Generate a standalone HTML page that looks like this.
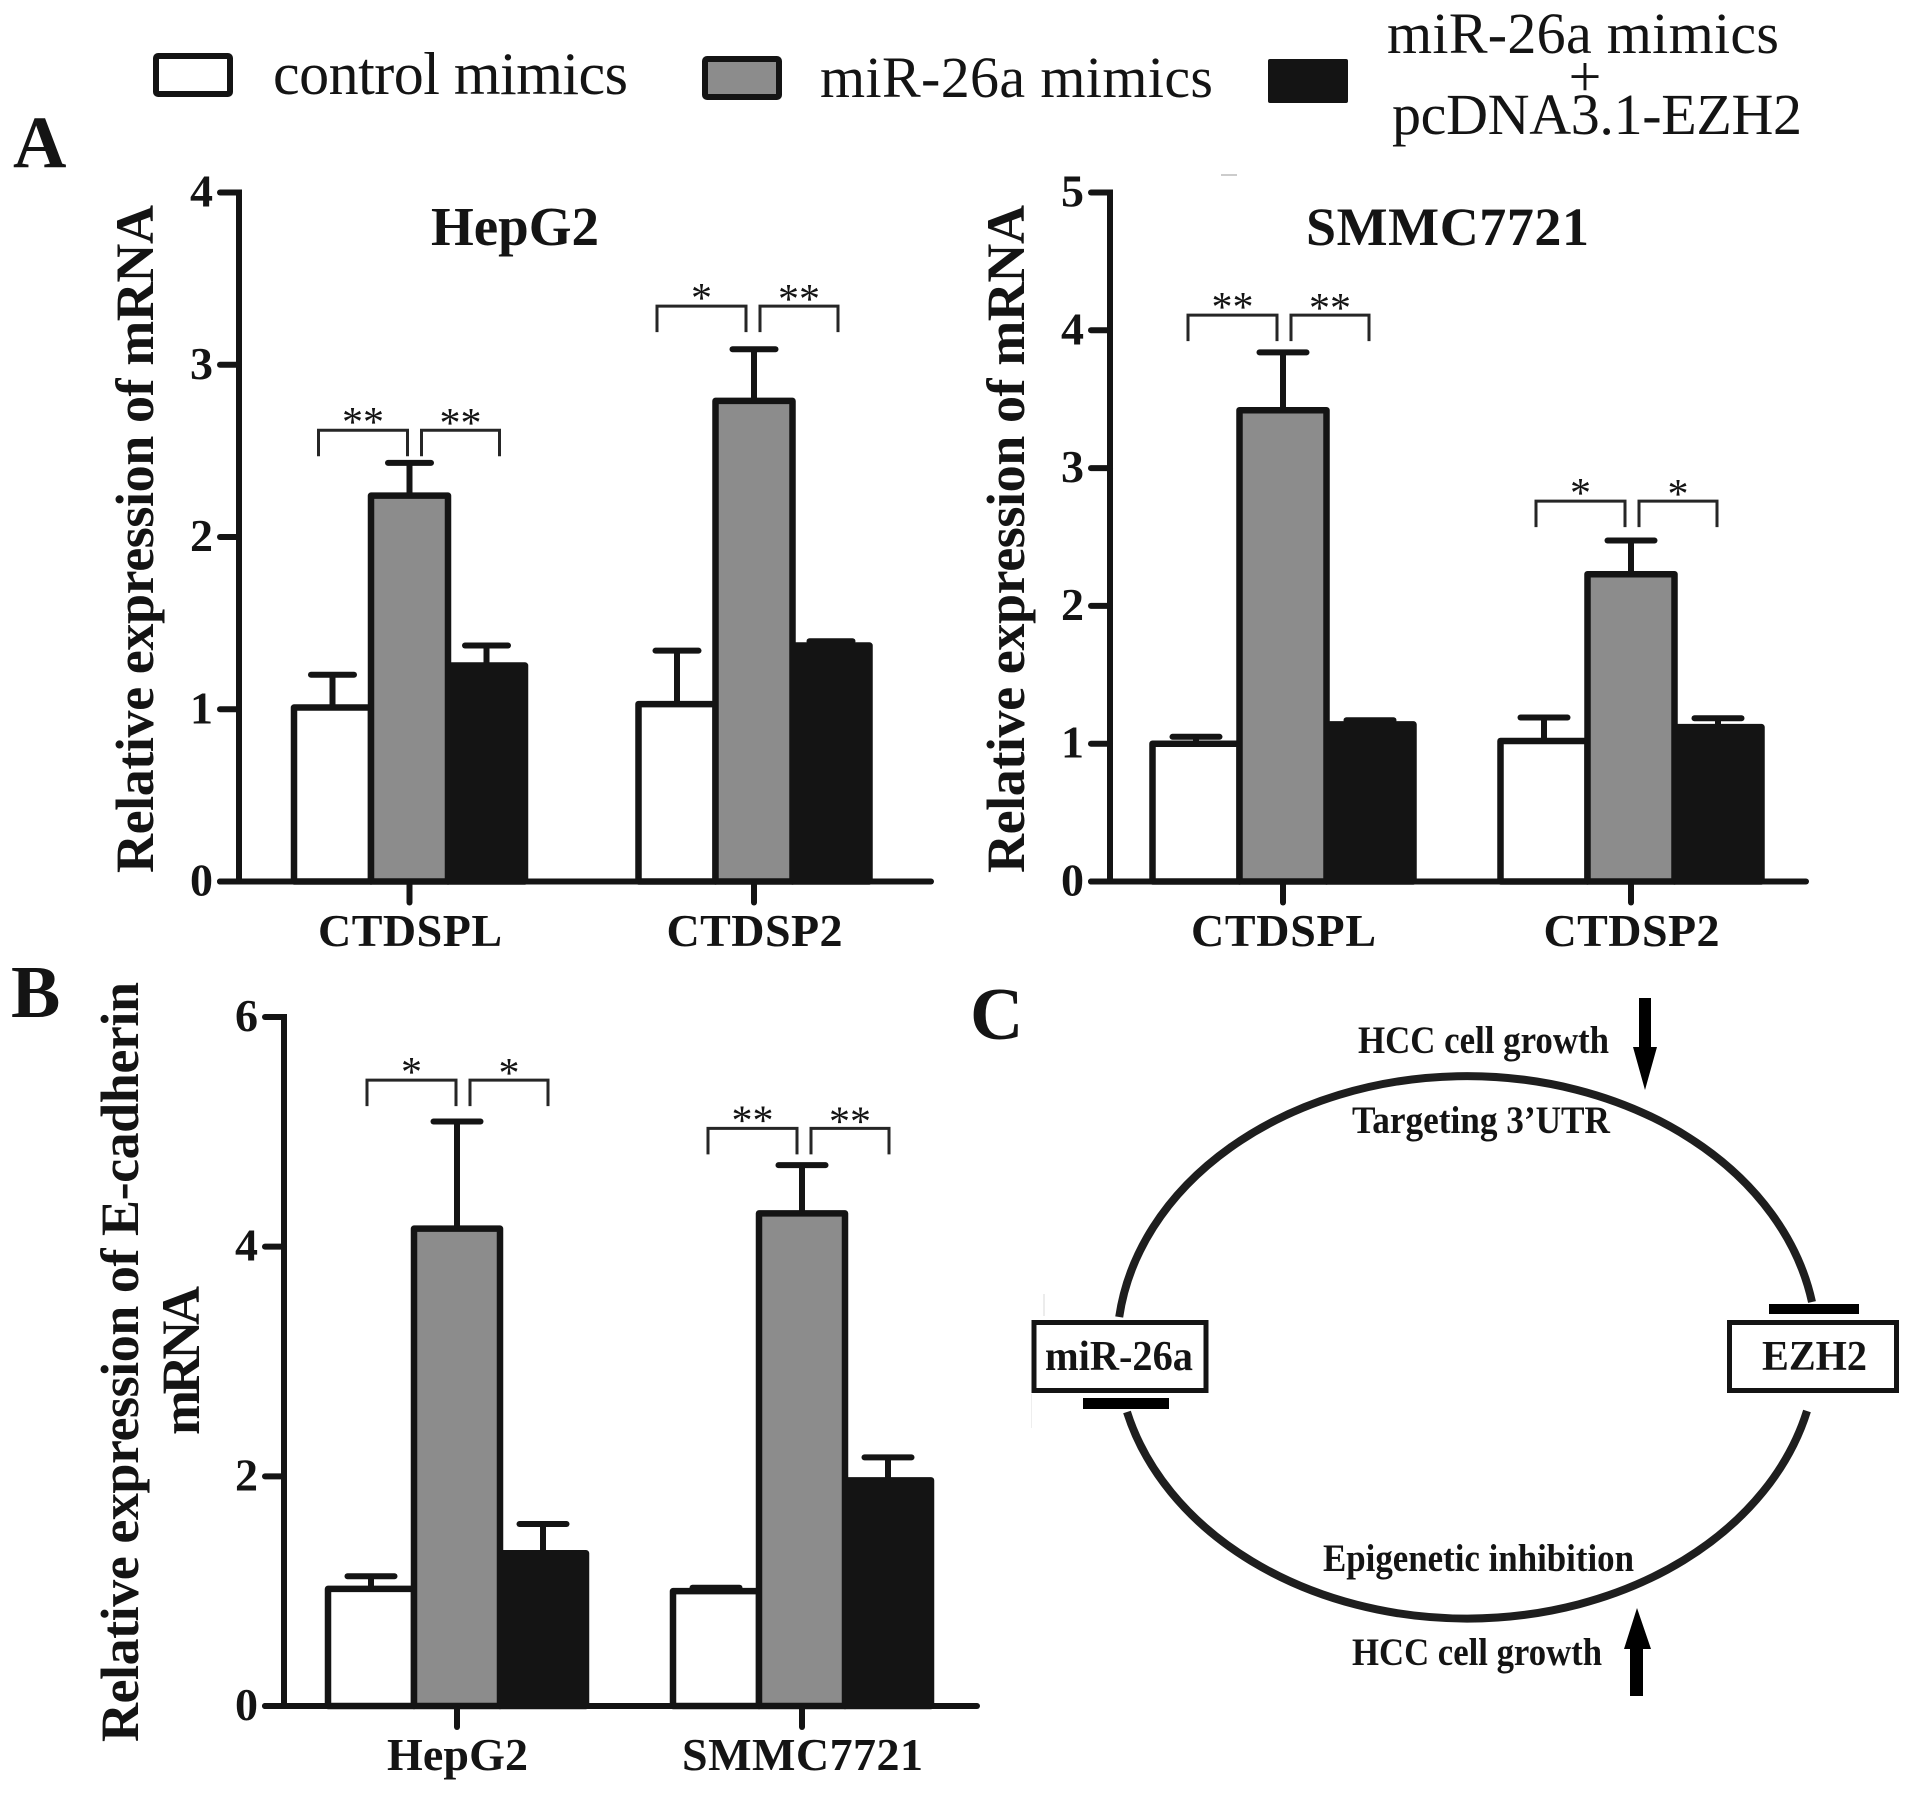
<!DOCTYPE html>
<html lang="en">
<head>
<meta charset="utf-8">
<title>miR-26a bar charts and regulatory diagram</title>
<style>
html,body{margin:0;padding:0;background:#fff}
svg{display:block}
text{font-family:"Liberation Serif",serif;fill:#141414}
.b{font-weight:bold}
</style>
</head>
<body>
<svg id="fig" xmlns="http://www.w3.org/2000/svg" width="1913" height="1793" viewBox="0 0 1913 1793">
<rect x="0" y="0" width="1913" height="1793" fill="#fff"/>

<g>
<rect x="156" y="56" width="74" height="38" rx="2" fill="#fff" stroke="#141414" stroke-width="6"/>
<text x="273" y="94" font-size="60" textLength="355" lengthAdjust="spacing">control mimics</text>
<rect x="705" y="59" width="74" height="38" rx="2" fill="#8c8c8c" stroke="#141414" stroke-width="6"/>
<text x="820" y="97" font-size="58" textLength="393" lengthAdjust="spacing">miR-26a mimics</text>
<rect x="1268" y="59" width="80" height="44" rx="2" fill="#141414"/>
<text x="1387" y="53" font-size="58" textLength="392" lengthAdjust="spacing">miR-26a mimics</text>
<text x="1585" y="96" font-size="58" text-anchor="middle">+</text>
<text x="1392" y="134" font-size="58" textLength="410" lengthAdjust="spacing">pcDNA3.1-EZH2</text>
</g>

<text class="b" x="13" y="167" font-size="74">A</text>
<text class="b" x="11" y="1017" font-size="74">B</text>
<text class="b" x="970" y="1039" font-size="74">C</text>

<text class="b" x="431" y="245" font-size="55" textLength="168" lengthAdjust="spacing">HepG2</text>
<text class="b" x="1306" y="245" font-size="54" textLength="283" lengthAdjust="spacing">SMMC7721</text>

<text class="b" font-size="54" transform="translate(153 873) rotate(-90)" textLength="668" lengthAdjust="spacing">Relative expression of mRNA</text>
<text class="b" font-size="54" transform="translate(1024 873) rotate(-90)" textLength="668" lengthAdjust="spacing">Relative expression of mRNA</text>
<text class="b" font-size="54" transform="translate(138 1742) rotate(-90)" textLength="760" lengthAdjust="spacing">Relative expression of E-cadherin</text>
<text class="b" font-size="54" transform="translate(199 1435) rotate(-90)" textLength="149" lengthAdjust="spacing">mRNA</text>

<g id="charts"></g>

<g>
<path d="M1119.2 1317 A350 271.5 0 0 1 1812 1302" fill="none" stroke="#1e1e1e" stroke-width="8"/>
<path d="M1127 1412 A350 271.5 0 0 0 1807 1411" fill="none" stroke="#1e1e1e" stroke-width="8"/>
<rect x="1034" y="1322.5" width="172" height="68" fill="#fff" stroke="#141414" stroke-width="5"/>
<text class="b" x="1045" y="1370" font-size="42" textLength="148" lengthAdjust="spacingAndGlyphs">miR-26a</text>
<rect x="1729.5" y="1322.5" width="167" height="68" fill="#fff" stroke="#141414" stroke-width="5"/>
<text class="b" x="1762" y="1370" font-size="42" textLength="105" lengthAdjust="spacingAndGlyphs">EZH2</text>
<rect x="1769" y="1304" width="90" height="10" fill="#000"/>
<rect x="1083" y="1398" width="86" height="11" fill="#000"/>
<text class="b" x="1358" y="1053" font-size="39" textLength="251" lengthAdjust="spacingAndGlyphs">HCC cell growth</text>
<text class="b" x="1352" y="1133" font-size="39" textLength="258" lengthAdjust="spacingAndGlyphs">Targeting 3’UTR</text>
<text class="b" x="1323" y="1571" font-size="39" textLength="311" lengthAdjust="spacingAndGlyphs">Epigenetic inhibition</text>
<text class="b" x="1352" y="1665" font-size="39" textLength="250" lengthAdjust="spacingAndGlyphs">HCC cell growth</text>
<polygon points="1639,998 1651,998 1651,1047 1657,1047 1645,1090 1633,1047 1639,1047" fill="#000"/>
<polygon points="1637,1608 1651,1649 1643,1649 1643,1696 1630,1696 1630,1649 1624,1649" fill="#000"/>
<rect x="1043" y="1294" width="2" height="22" fill="#ececec"/>
<rect x="1031" y="1394" width="1" height="34" fill="#eeeeee"/>
</g>
<rect x="1221" y="174" width="16" height="2" fill="#ccc"/>
</svg>

<script>
// Panel A, HepG2
const hepCategories = ['CTDSPL', 'CTDSP2'];
const hepTicks = ['0', '1', '2', '3', '4'];
const hepControl = [1.01, 1.03];
const hepControlTop = [1.2, 1.34];
const hepMimics = [2.24, 2.79];
const hepMimicsTop = [2.43, 3.09];
const hepRescue = [1.254, 1.37];
const hepRescueTop = [1.37, 1.395];
const hepBracketLevel = [2.62, 3.34];
const hepLeftStars = ['**', '*'];
const hepRightStars = ['**', '**'];

// Panel A, SMMC7721
const smmcCategories = ['CTDSPL', 'CTDSP2'];
const smmcTicks = ['0', '1', '2', '3', '4', '5'];
const smmcControl = [1.0, 1.02];
const smmcControlTop = [1.05, 1.19];
const smmcMimics = [3.42, 2.23];
const smmcMimicsTop = [3.84, 2.475];
const smmcRescue = [1.14, 1.12];
const smmcRescueTop = [1.17, 1.185];
const smmcBracketLevel = [4.11, 2.76];
const smmcLeftStars = ['**', '*'];
const smmcRightStars = ['**', '*'];

// Panel B, E-cadherin
const ecadCategories = ['HepG2', 'SMMC7721'];
const ecadTicks = ['0', '2', '4', '6'];
const ecadControl = [1.02, 1.0];
const ecadControlTop = [1.13, 1.03];
const ecadMimics = [4.157, 4.29];
const ecadMimicsTop = [5.09, 4.71];
const ecadRescue = [1.33, 1.965];
const ecadRescueTop = [1.585, 2.165];
const ecadBracketLevel = [5.45, 5.03];
const ecadLeftStars = ['*', '**'];
const ecadRightStars = ['*', '**'];

const SVGNS = 'http://www.w3.org/2000/svg';
const root = document.getElementById('charts');
function mk(tag, attrs, parent) {
  const el = document.createElementNS(SVGNS, tag);
  for (const k in attrs) el.setAttribute(k, attrs[k]);
  parent.appendChild(el);
  return el;
}
const INK = '#141414';
const FILLS = ['#ffffff', '#8c8c8c', '#141414'];

function drawChart(cfg) {
  const g = mk('g', {}, root);
  
  
  const maxV = Number(cfg.ticks[cfg.ticks.length - 1]);
  const y = v => cfg.y0 - (v / maxV) * (cfg.y0 - cfg.yTop);
  const x = i => cfg.groupX0 + i * cfg.groupStep;

  // axes
  const yAxis = mk('line', {x1: cfg.axisX, x2: cfg.axisX, y1: cfg.yTop - 3, y2: cfg.y0 + 3, stroke: INK, 'stroke-width': 6}, g);
  
  

  cfg.ticks.forEach(t => {
    const v = Number(t);
    const tick = mk('line', {x1: cfg.axisX - 19, x2: cfg.axisX, y1: y(v), y2: y(v), stroke: INK, 'stroke-width': 6, 'stroke-linecap': 'round'}, g);
    
    
    const lab = mk('text', {x: cfg.axisX - 26, y: y(v) + 14, 'font-size': 46, 'text-anchor': 'end', 'font-weight': 'bold'}, g);
    
    
    lab.textContent = t;
  });

  cfg.categories.forEach((c, i) => {
    const cx = x(i);
    const tick = mk('line', {x1: cx, x2: cx, y1: cfg.y0, y2: cfg.y0 + 21, stroke: INK, 'stroke-width': 6, 'stroke-linecap': 'round'}, g);
    
    
    const lab = mk('text', {x: cx + 0.5, y: cfg.labelY, 'font-size': 46, 'text-anchor': 'middle', 'font-weight': 'bold', textLength: cfg.labelW[i], lengthAdjust: 'spacing'}, g);
    
    
    lab.textContent = c;

    // draw order: rescue, control, mimics, so the grey bar's outline stays on top
    [2, 0, 1].forEach(s => {
      const val = cfg.series[s][i];
      const top = cfg.tops[s][i];
      const bx = cx + (s - 1) * cfg.barStep;
      const stem = mk('line', {x1: bx, x2: bx, y1: y(top), y2: y(val), stroke: INK, 'stroke-width': 6}, g);
      
      
      const cap = mk('line', {x1: bx - cfg.capW / 2, x2: bx + cfg.capW / 2, y1: y(top), y2: y(top), stroke: INK, 'stroke-width': 6, 'stroke-linecap': 'round'}, g);
      
      
      const bar = mk('rect', {x: bx - cfg.barStep / 2, y: y(val), width: cfg.barStep, height: cfg.y0 - y(val), fill: FILLS[s], stroke: INK, 'stroke-width': 6.5, 'stroke-linejoin': 'round'}, g);
      
      
    });

    // significance brackets
    const by = y(cfg.levels[i]);
    const sh = cfg.shift[i];
    const l1 = cx + sh - 91, l2 = cx + sh - 2, r1 = cx + sh + 12, r2 = cx + sh + 90;
    const left = mk('path', {d: `M${l1} ${by + 26}V${by}H${l2}V${by + 26}`, fill: 'none', stroke: '#262626', 'stroke-width': 3}, g);
    
    
    const right = mk('path', {d: `M${r1} ${by + 26}V${by}H${r2}V${by + 26}`, fill: 'none', stroke: '#262626', 'stroke-width': 3}, g);
    
    
    const sl = mk('text', {x: (l1 + l2) / 2, y: by + 6, 'font-size': 42, 'text-anchor': 'middle'}, g);
    
    
    sl.textContent = cfg.leftStars[i];
    const sr = mk('text', {x: (r1 + r2) / 2, y: by + 7, 'font-size': 42, 'text-anchor': 'middle'}, g);
    
    
    sr.textContent = cfg.rightStars[i];
  });

  // the baseline sits over the bar feet
  const xAxis = mk('line', {x1: cfg.axisX - 19, x2: cfg.axisEnd, y1: cfg.y0, y2: cfg.y0, stroke: INK, 'stroke-width': 6, 'stroke-linecap': 'round'}, g);
  
  
}

drawChart({
  name: 'chart-hepg2', axisX: 239, axisEnd: 931, y0: 881.5, yTop: 192.5, labelY: 946,
  groupX0: 409.5, groupStep: 344.5, barStep: 77, capW: 43, labelW: [184, 176], shift: [0, -6],
  categories: hepCategories, ticks: hepTicks,
  series: [hepControl, hepMimics, hepRescue], tops: [hepControlTop, hepMimicsTop, hepRescueTop],
  levels: hepBracketLevel, leftStars: hepLeftStars, rightStars: hepRightStars
});
drawChart({
  name: 'chart-smmc7721', axisX: 1110, axisEnd: 1806, y0: 881.5, yTop: 192.5, labelY: 946,
  groupX0: 1283, groupStep: 348, barStep: 87, capW: 47, labelW: [185, 176], shift: [-4, -4],
  categories: smmcCategories, ticks: smmcTicks,
  series: [smmcControl, smmcMimics, smmcRescue], tops: [smmcControlTop, smmcMimicsTop, smmcRescueTop],
  levels: smmcBracketLevel, leftStars: smmcLeftStars, rightStars: smmcRightStars
});
drawChart({
  name: 'chart-ecadherin', axisX: 284, axisEnd: 977, y0: 1706, yTop: 1017, labelY: 1770,
  groupX0: 457, groupStep: 345, barStep: 86, capW: 47, labelW: [141, 241], shift: [1, -3],
  categories: ecadCategories, ticks: ecadTicks,
  series: [ecadControl, ecadMimics, ecadRescue], tops: [ecadControlTop, ecadMimicsTop, ecadRescueTop],
  levels: ecadBracketLevel, leftStars: ecadLeftStars, rightStars: ecadRightStars
});
</script>
</body>
</html>
